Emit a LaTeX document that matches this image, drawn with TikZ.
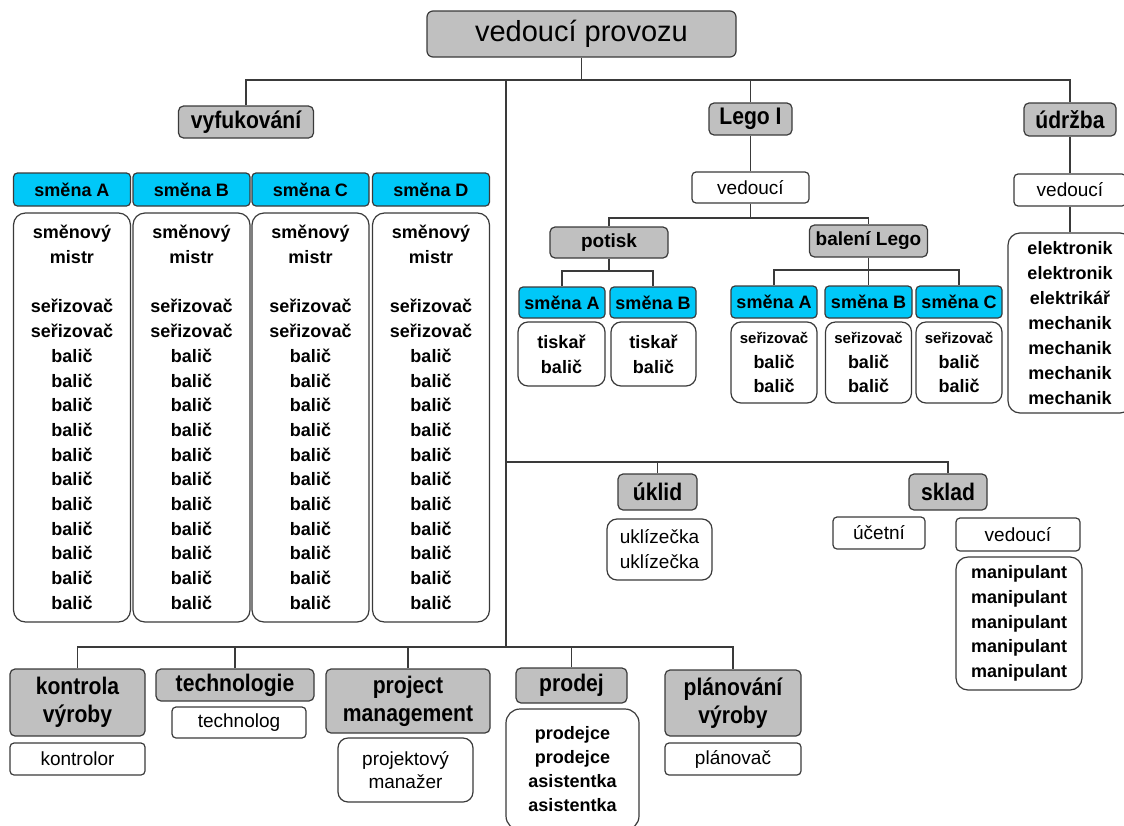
\documentclass[tikz,border=0pt]{standalone}
\usepackage{fontspec}
\setmainfont{Liberation Sans}
\newfontfamily\hdrfont[FakeStretch=0.88]{Liberation Sans}
\definecolor{edgecol}{HTML}{3A3A3A}
\definecolor{grayfill}{HTML}{C0C0C0}
\definecolor{cyanfill}{HTML}{00C8F8}
\newcommand\myBalics{balič\\balič\\balič\\balič\\balič\\balič\\balič\\balič\\balič\\balič\\balič}
\tikzset{
  base/.style={draw=edgecol, line width=1.2pt, inner sep=0pt, align=center, text=black},
  gbox/.style={base, fill=grayfill, rounded corners=5pt, font=\hdrfont\bfseries\fontsize{24}{28}\selectfont},
  gsmall/.style={base, fill=grayfill, rounded corners=5pt, font=\bfseries\fontsize{19}{23}\selectfont},
  cbox/.style={base, fill=cyanfill, rounded corners=4pt, font=\bfseries\fontsize{18}{22}\selectfont},
  wbox/.style={base, fill=white, rounded corners=4pt, font=\fontsize{19}{23.5}\selectfont},
  lbox/.style={base, fill=white, rounded corners=12pt, font=\bfseries\fontsize{18}{24.7}\selectfont},
  conn/.style={draw=edgecol, line width=1.1pt},
  sz/.style 2 args={minimum width=#1pt, minimum height=#2pt}
}
\begin{document}
\begin{tikzpicture}[x=1pt,y=-1pt]
\useasboundingbox (0,0) rectangle (1124,825);
% top
\node[base, fill=grayfill, rounded corners=6pt, sz={309}{46}, font=\fontsize{29}{32}\selectfont] (title) at (581.5,34) {vedoucí provozu};
\coordinate (busT) at (0,80);
\coordinate (mTop) at (506,80);
\coordinate (mMid) at (506,462);
\coordinate (mBot) at (506,647);

\node[gbox, sz={135}{32}] (vyf) at (246,122) {vyfukování};
\node[gbox, sz={83}{32}] (lego) at (750.5,119) {Lego I};
\node[gbox, sz={92}{33}] (udr) at (1070,119.5) {údržba};

\draw[conn] (title.south) -- (title.south |- busT);
\draw[conn] (vyf.north) |- (udr.north |- busT) -- (udr.north);
\draw[conn] (lego.north) -- (lego.north |- busT);
\draw[conn] (mTop) -- (mBot);

% left columns
\foreach \n/\x/\l in {a/72/A,b/191.5/B,c/310.5/C,d/431/D}{
  \node[cbox, sz={117}{33}] (shift\n) at (\x,189.5) {směna \l};
  \node[lbox, sz={117}{409}] (col\n) at (\x,417.5) {směnový\\mistr\\[24.7pt]seřizovač\\seřizovač\\\myBalics};
}

% Lego I subtree
\node[wbox, sz={117}{31}] (legoved) at (750.5,187.5) {vedoucí};
\draw[conn] (lego.south) -- (legoved.north);
\node[gsmall, sz={118}{31}] (potisk) at (609,242.5) {potisk};
\node[gsmall, sz={118}{32}] (balego) at (868.5,241) {balení Lego};
\coordinate (busL) at (0,218);
\draw[conn] (legoved.south) -- (legoved.south |- busL);
\draw[conn] (potisk.north) |- (balego.north |- busL) -- (balego.north);

\node[cbox, sz={86}{31}] (pA) at (562,302.5) {směna A};
\node[cbox, sz={86}{31}] (pB) at (653,302.5) {směna B};
\coordinate (busP) at (0,271);
\draw[conn] (potisk.south) -- (potisk.south |- busP);
\draw[conn] (pA.north) |- (pB.north |- busP) -- (pB.north);
\node[lbox, sz={87}{64}, rounded corners=10pt, font=\bfseries\fontsize{18}{25}\selectfont] (pAc) at (561.5,354) {tiskař\\balič};
\node[lbox, sz={85}{64}, rounded corners=10pt, font=\bfseries\fontsize{18}{25}\selectfont] (pBc) at (653.5,354) {tiskař\\balič};

\node[cbox, sz={86}{32}] (bA) at (774,302) {směna A};
\node[cbox, sz={87}{32}] (bB) at (868.5,302) {směna B};
\node[cbox, sz={86}{32}] (bC) at (959,302) {směna C};
\coordinate (busB) at (0,270);
\draw[conn] (balego.south) -- (bB.north);
\draw[conn] (bA.north) |- (bC.north |- busB) -- (bC.north);
\foreach \n/\x in {A/774,B/868.5,C/959}{
  \node[lbox, sz={86}{81}, rounded corners=10pt, font=\bfseries\fontsize{18}{24.5}\selectfont] (b\n c) at (\x,362.5) {{\fontsize{15}{18}\selectfont seřizovač}\\balič\\balič};
}

% údržba subtree
\node[wbox, sz={112}{32}] (udrved) at (1070,190) {vedoucí};
\node[lbox, sz={124}{180}, font=\bfseries\fontsize{18}{25}\selectfont] (elek) at (1070,323) {elektronik\\elektronik\\elektrikář\\mechanik\\mechanik\\mechanik\\mechanik};
\draw[conn] (udr.south) -- (udrved.north);
\draw[conn] (udrved.south) -- (elek.north);

% middle bus
\node[gbox, sz={79}{36}] (uklid) at (657.5,492) {úklid};
\node[gbox, sz={78}{36}] (sklad) at (948,492) {sklad};
\draw[conn] (mMid) -| (sklad.north);
\draw[conn] (uklid.north) -- (uklid.north |- mMid);
\node[wbox, sz={105}{61}, rounded corners=10pt, font=\fontsize{19}{25}\selectfont] (ukl) at (659.5,549.5) {uklízečka\\uklízečka};
\node[wbox, sz={92}{32}] (ucet) at (879,533) {účetní};
\node[wbox, sz={124}{33}] (skved) at (1018,534.5) {vedoucí};
\node[lbox, sz={126}{133}, font=\bfseries\fontsize{18}{24.75}\selectfont] (manip) at (1019,623.5) {manipulant\\manipulant\\manipulant\\manipulant\\manipulant};

% bottom bus
\node[gbox, sz={135}{67}] (kontr) at (77.5,702.5) {kontrola\\výroby};
\node[wbox, sz={135}{32}] (kontrolor) at (77.5,759) {kontrolor};
\node[gbox, sz={158}{32}] (techn) at (235,685) {technologie};
\node[wbox, sz={134}{31}] (technolog) at (239,722.5) {technolog};
\node[gbox, sz={164}{64}] (proj) at (408,701) {project\\management};
\node[wbox, sz={135}{64}, rounded corners=10pt] (projman) at (405.5,770) {projektový\\manažer};
\node[gbox, sz={111}{35}] (prodej) at (571.5,685.5) {prodej};
\node[lbox, sz={133}{121}, rounded corners=14pt, font=\bfseries\fontsize{18}{24}\selectfont] (prodejci) at (572.5,769.5) {prodejce\\prodejce\\asistentka\\asistentka};
\node[gbox, sz={136}{66}] (plan) at (733,703) {plánování\\výroby};
\node[wbox, sz={136}{32}] (planovac) at (733,759) {plánovač};

\draw[conn] (kontr.north) |- (plan.north |- mBot) -- (plan.north);
\draw[conn] (techn.north) -- (techn.north |- mBot);
\draw[conn] (proj.north) -- (proj.north |- mBot);
\draw[conn] (prodej.north) -- (prodej.north |- mBot);
\end{tikzpicture}
\end{document}
